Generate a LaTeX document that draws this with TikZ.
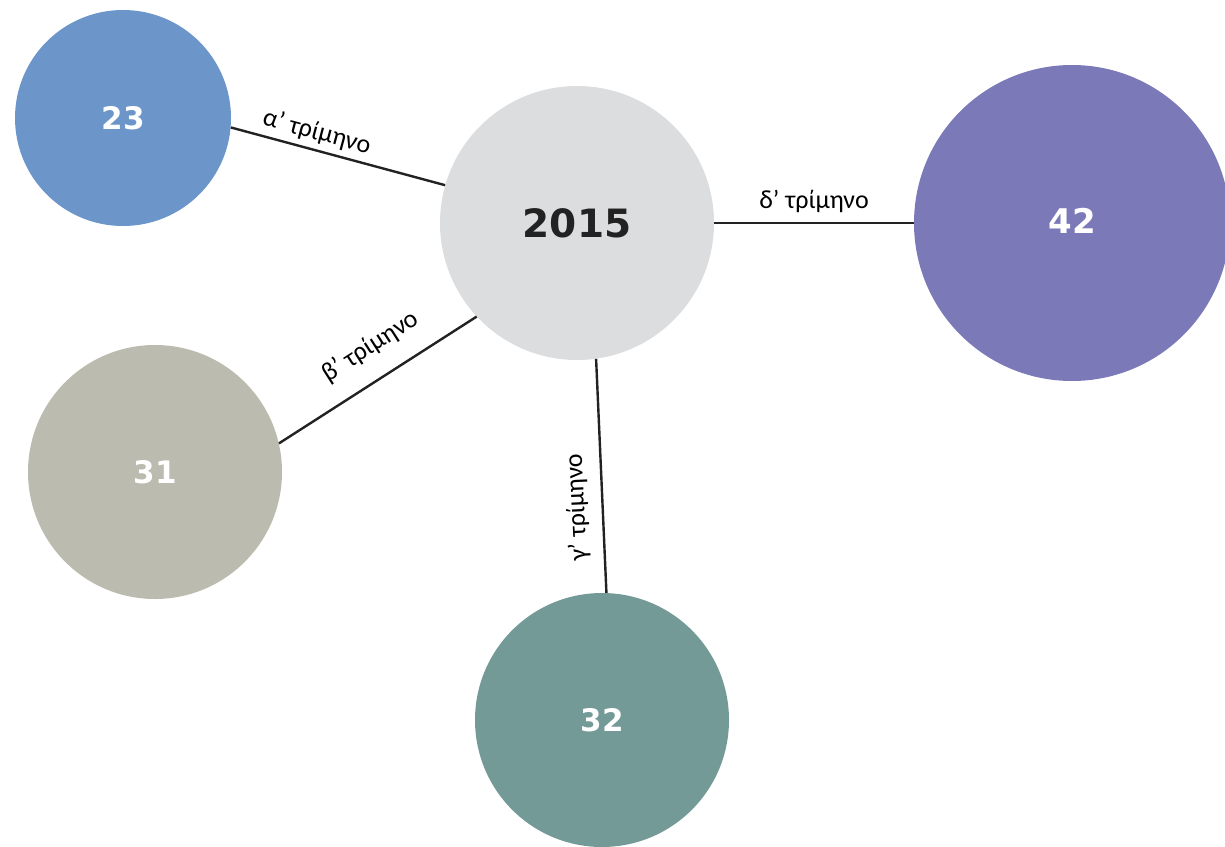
\documentclass[tikz,border=0pt]{standalone}
\usepackage{fontspec}
\setmainfont{Carlito}
\newfontfamily\numfont{DejaVu Sans}
\definecolor{cA}{HTML}{6C96C9}
\definecolor{cC}{HTML}{DCDDDF}
\definecolor{cD}{HTML}{7B79B8}
\definecolor{cB}{HTML}{BBBBB0}
\definecolor{cG}{HTML}{739A97}
\definecolor{ink}{HTML}{222222}
\tikzset{
  bub/.style={circle, draw=none, inner sep=0pt, text=white, font=\numfont\bfseries\fontsize{31}{33}\selectfont},
  conn/.style={draw=ink, line width=2.4pt},
  lbl/.style={font=\fontsize{26}{28}\selectfont, text=black, inner sep=2pt}
}
\begin{document}
\begin{tikzpicture}[x=1pt,y=-1pt]
\useasboundingbox (0,0) rectangle (1225,846);
\clip (0,0) rectangle (1225,846);
\node[bub, fill=cA, minimum size=216pt] (a) at (123,118) {23};
\node[bub, fill=cC, minimum size=274pt, text=ink, font=\numfont\bfseries\fontsize{39}{41}\selectfont] (c) at (577,223) {\raisebox{-4pt}{2015}};
\node[bub, fill=cD, minimum size=316pt, font=\numfont\bfseries\fontsize{34}{36}\selectfont] (d) at (1072,223) {\raisebox{4pt}{42}};
\node[bub, fill=cB, minimum size=254pt] (b) at (155,472) {31};
\node[bub, fill=cG, minimum size=254pt] (g) at (602,720) {32};
\draw[conn] (a.-5) -- (c.164) node[lbl, pos=.38, sloped, above=3pt] {α’ τρίμηνο};
\draw[conn] (b.13) -- (c.223) node[lbl, pos=.55, sloped, above=17pt] {β’ τρίμηνο};
\draw[conn] (g.88) -- (c.278) node[lbl, pos=.37, sloped, allow upside down, above=11pt] {γ’ τρίμηνο};
\draw[conn] (c.east) -- (d.west) node[lbl, pos=.5, above=7pt] {δ’ τρίμηνο};
\end{tikzpicture}
\end{document}
